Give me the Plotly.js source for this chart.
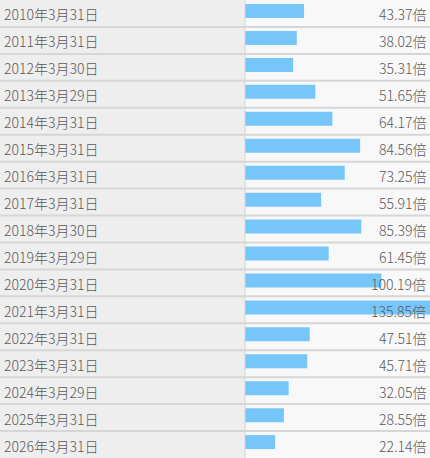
<!DOCTYPE html>
<html>
<head>
<meta charset="utf-8">
<script src="https://cdn.plot.ly/plotly-3.0.1.min.js"></script>
<style>html,body{margin:0;padding:0;background:#f8f8f8;}#chart{width:430px;height:458px;}</style>
</head>
<body>
<div id="chart"></div>
<script>
const dates = ["2010年3月31日","2011年3月31日","2012年3月30日","2013年3月29日","2014年3月31日","2015年3月31日","2016年3月31日","2017年3月31日","2018年3月30日","2019年3月29日","2020年3月31日","2021年3月31日","2022年3月31日","2023年3月31日","2024年3月29日","2025年3月31日","2026年3月31日"];
const values = [43.37,38.02,35.31,51.65,64.17,84.56,73.25,55.91,85.39,61.45,100.19,135.85,47.51,45.71,32.05,28.55,22.14];
const unit = "倍";

const W = 430, H = 458, split = 245;
const font = {family: "Noto Sans CJK JP, Noto Sans, sans-serif", size: 14, color: "#5a5a5a", weight: 300};
const maxV = Math.max(...values);

const trace = {
  type: "bar", orientation: "h",
  x: values, y: dates,
  marker: {color: "#76c6fa", line: {width: 0}},
  width: 0.52, offset: -0.35,
  hoverinfo: "none"
};

const shapes = [
  {type: "rect", xref: "paper", yref: "paper", x0: -split/(W-split), x1: 0, y0: 0, y1: 1, fillcolor: "#eeeeee", line: {width: 0}, layer: "below"},
  {type: "line", xref: "paper", yref: "paper", x0: 0, x1: 0, y0: 0, y1: 1, line: {color: "#d4d4d4", width: 1}, layer: "above"}
];
dates.forEach((d, i) => {
  if (i > 0) shapes.push({type: "line", xref: "paper", yref: "y", x0: -split/(W-split), x1: 1, y0: i - 0.5, y1: i - 0.5, line: {color: "#d6d6d6", width: 2}, layer: "above"});
});

const annotations = [];
dates.forEach((d, i) => {
  annotations.push({xref: "paper", yref: "y", x: -split/(W-split) + 2/(W-split), y: d, text: d, showarrow: false, xanchor: "left", yanchor: "middle", yshift: -1, font: font});
  annotations.push({xref: "paper", yref: "y", x: 1, y: d, text: values[i].toFixed(2) + unit, showarrow: false, xanchor: "right", yanchor: "middle", yshift: -1, xshift: -2, font: font});
});

const layout = {
  width: W, height: H,
  margin: {l: split, r: 0, t: 0, b: 0, pad: 0},
  paper_bgcolor: "#f8f8f8", plot_bgcolor: "#f8f8f8",
  showlegend: false,
  xaxis: {range: [0, maxV], visible: false, fixedrange: true},
  yaxis: {type: "category", categoryorder: "array", categoryarray: dates, range: [dates.length - 0.5, -0.5], visible: false, fixedrange: true},
  shapes: shapes,
  annotations: annotations
};

Plotly.newPlot("chart", [trace], layout, {displayModeBar: false, staticPlot: true});
</script>
</body>
</html>
